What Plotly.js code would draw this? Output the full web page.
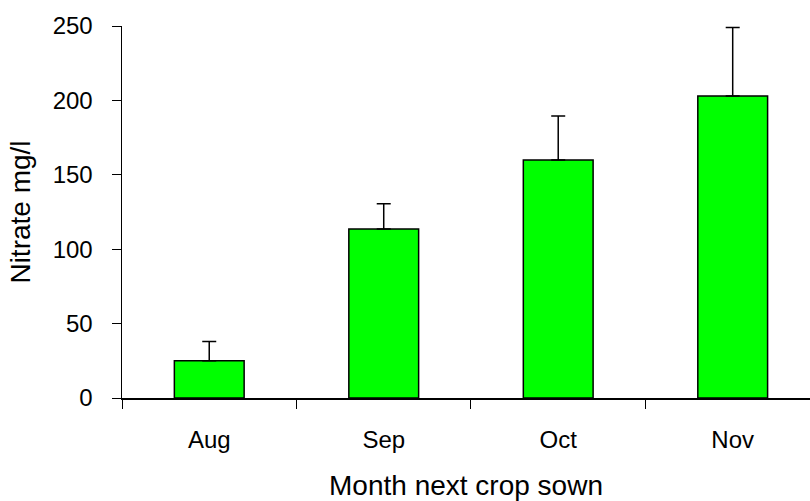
<!DOCTYPE html>
<html>
<head>
<meta charset="utf-8">
<script src="https://cdn.plot.ly/plotly-3.0.1.min.js"></script>
<style>html,body{margin:0;padding:0;background:#fff;}#chart{width:810px;height:501px;}</style>
</head>
<body>
<div id="chart"></div>
<script>
const months = ["Aug", "Sep", "Oct", "Nov"];
const nitrate = [25, 113.5, 160, 203];
const errorUp = [13, 17, 29.5, 46];
const yTicks = [0, 50, 100, 150, 200, 250];

const trace = {
  type: "bar",
  x: months,
  y: nitrate,
  width: 0.4,
  marker: {color: "#00ff00", line: {color: "#000", width: 1.5}},
  error_y: {type: "data", symmetric: false, array: errorUp, arrayminus: [0,0,0,0],
            color: "#000", thickness: 1.5, width: 7},
  hoverinfo: "skip"
};

const fam = "'Liberation Sans', Arial, sans-serif";
const tickFont = {family: fam, size: 24, color: "#000"};
const titleFont = {family: fam, size: 28, color: "#000"};

const layout = {
  width: 810, height: 501,
  margin: {l: 122, r: 0, t: 26, b: 102.7},
  paper_bgcolor: "#fff", plot_bgcolor: "#fff",
  showlegend: false,
  font: tickFont,
  xaxis: {
    type: "category",
    range: [-0.5, 3.443],
    tickson: "boundaries",
    ticks: "outside", ticklen: 9, tickwidth: 1, tickcolor: "#000",
    showline: true, linecolor: "#000", linewidth: 1.5,
    showgrid: false, zeroline: false,
    tickfont: tickFont,
    ticklabelstandoff: 20,
    title: {text: "Month next crop sown", font: titleFont, standoff: 24},
    automargin: false
  },
  yaxis: {
    range: [0, 250],
    tickvals: yTicks,
    ticks: "outside", ticklen: 9, tickwidth: 1, tickcolor: "#000",
    showline: true, linecolor: "#000", linewidth: 1.5,
    showgrid: false, zeroline: false,
    tickfont: tickFont,
    ticklabelstandoff: 14,
    title: {text: "Nitrate mg/l", font: titleFont, standoff: 14},
    automargin: false
  }
};

Plotly.newPlot("chart", [trace], layout, {staticPlot: true, displayModeBar: false});
</script>
</body>
</html>
